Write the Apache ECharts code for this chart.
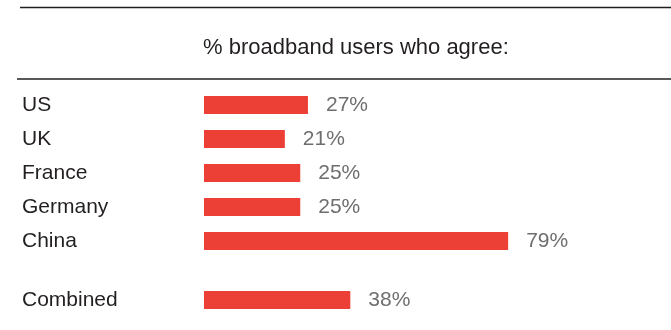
<!DOCTYPE html>
<html>
<head>
<meta charset="utf-8">
<script src="https://cdn.jsdelivr.net/npm/echarts@6/dist/echarts.min.js"></script>
<style>
  html, body { margin: 0; padding: 0; background: #fff; }
  #chart { width: 671px; height: 330px; }
</style>
</head>
<body>
<div id="chart"></div>
<script>
// Share of broadband users who agree, by country
const countries = ['US', 'UK', 'France', 'Germany', 'China'];
const countryValues = [27, 21, 25, 25, 79];
const totalLabel = ['Combined'];
const totalValues = [38];
const titleText = '% broadband users who agree:';

const FONT = 'Liberation Sans, Arial, Helvetica, sans-serif';
const BAR = '#ec3f35';
const INK = '#231f20';
const GREY = '#6e6e6e';

const chart = echarts.init(document.getElementById('chart'));

function xAxisFor(gridIndex) {
  return {
    gridIndex, type: 'value', min: 0, max: 100, show: false
  };
}
function yAxisFor(gridIndex, cats) {
  return {
    gridIndex, type: 'category', data: cats, inverse: true,
    axisLine: { show: false }, axisTick: { show: false }, splitLine: { show: false },
    axisLabel: {
      align: 'left', margin: 182, color: INK,
      fontFamily: FONT, fontSize: 21, padding: [3, 0, 0, 0]
    }
  };
}
function barSeries(idx, values) {
  return {
    type: 'bar', xAxisIndex: idx, yAxisIndex: idx, data: values,
    barWidth: 18, itemStyle: { color: BAR }, silent: true,
    label: {
      show: true, position: 'right', distance: 18,
      formatter: '{c}%', color: GREY, fontFamily: FONT, fontSize: 21,
      padding: [3, 0, 0, 0]
    }
  };
}

chart.setOption({
  animation: false,
  title: {
    text: titleText, left: 203, top: 37, padding: 0,
    textStyle: { fontFamily: FONT, fontSize: 22, fontWeight: 'normal', color: INK }
  },
  graphic: [
    { type: 'line', shape: { x1: 20, y1: 7.5, x2: 671, y2: 7.5 }, style: { stroke: INK, lineWidth: 1.5 } },
    { type: 'line', shape: { x1: 17, y1: 79, x2: 671, y2: 79 }, style: { stroke: INK, lineWidth: 1.5 } }
  ],
  grid: [
    { left: 204, top: 88, width: 385, height: 170 },
    { left: 204, top: 283, width: 385, height: 34 }
  ],
  xAxis: [xAxisFor(0), xAxisFor(1)],
  yAxis: [yAxisFor(0, countries), yAxisFor(1, totalLabel)],
  series: [barSeries(0, countryValues), barSeries(1, totalValues)]
});
</script>
</body>
</html>
